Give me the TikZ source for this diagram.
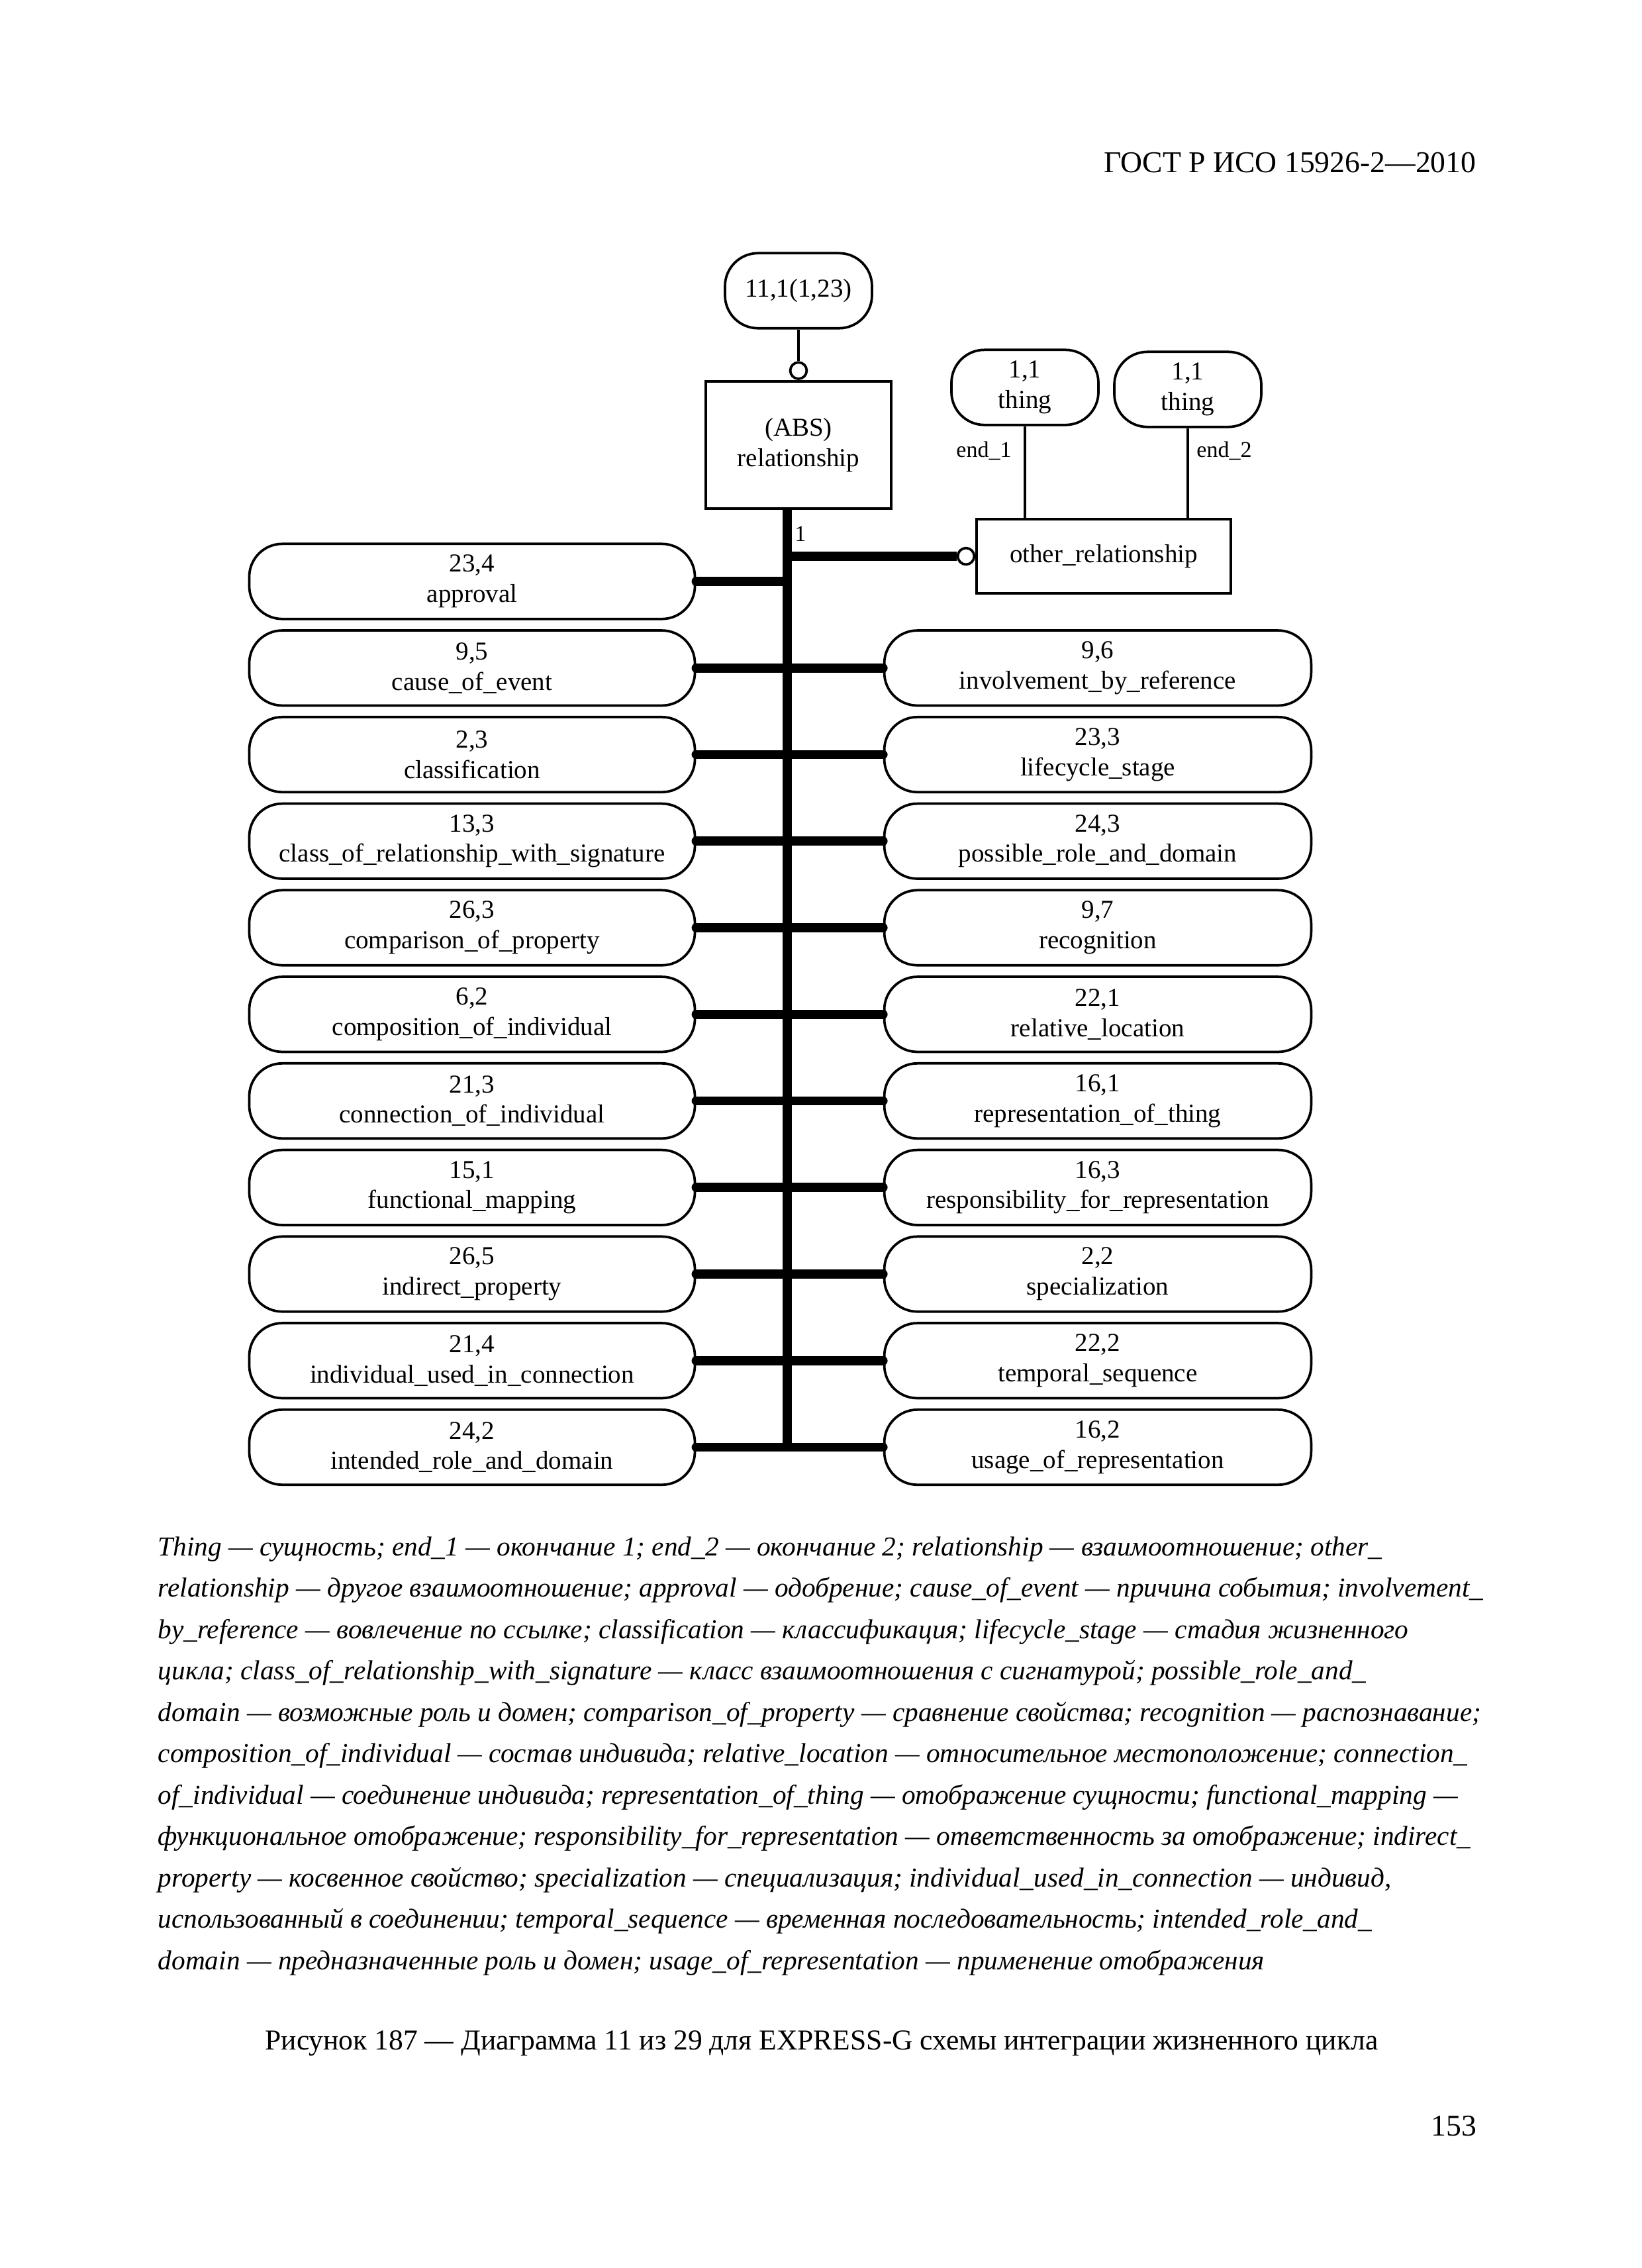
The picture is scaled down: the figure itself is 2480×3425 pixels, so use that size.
\documentclass[tikz,border=0pt]{standalone}
\usepackage{fontspec}
\setmainfont{Liberation Serif}
\usepackage{xcolor}
\usepackage{tikz}
\usetikzlibrary{positioning, arrows.meta}

\begin{document}
\begin{tikzpicture}[x=0.0084677cm, y=-0.0084677cm,
  ent/.style={draw, line width=0.9pt, inner sep=0pt, align=center, font=\fontsize{9.4}{11}\selectfont},
  refbox/.style={ent, rounded corners=12pt, minimum height=0.96cm},
  rowleft/.style={refbox, minimum width=5.70cm},
  rowright/.style={refbox, minimum width=5.46cm},
  smallref/.style={refbox, minimum width=1.88cm},
  bus/.style={line width=3.3pt},
  link/.style={line width=0.9pt},
  ring/.style={circle, draw, fill=white, line width=0.9pt, inner sep=0pt, minimum size=2.1mm},
  lbl/.style={inner sep=0pt, font=\fontsize{8.2}{10}\selectfont}]
\useasboundingbox (0,0) rectangle (2480,3425);

\node[anchor=base east, font=\fontsize{11}{13}\selectfont] (head) at (2244,260) {ГОСТ Р ИСО 15926-2—2010};

% schema part
\node[smallref] (sup) at (1206,439) {11,1(1,23)};
\node[ent, minimum width=2.37cm, minimum height=1.63cm] (rel) at (1206,672) {(ABS)\\relationship};
\node[ring, anchor=south] (r1) at (rel.north) {};
\draw[link] (sup) -- (r1);

\node[smallref] (th1) at (1548,585) {1,1\\thing};
\node[smallref] (th2) at (1794,588) {1,1\\thing};
\node[ent, minimum width=3.25cm, minimum height=0.95cm] (other) at (1667,840) {other\_relationship};
\node[ring, anchor=east] (r2) at (other.west) {};
\draw[link] (th1.south) -- (th1.south |- other.north);
\draw[link] (th2.south) -- (th2.south |- other.north);
\node[lbl] (e1) at (1486,681) {end\_1};
\node[lbl] (e2) at (1849,681) {end\_2};

% trunk
\coordinate (bustop) at (1189,770);
\coordinate (busend) at (1189,2192);
\draw[bus] (bustop) -- (busend);
\draw[bus] (bustop |- r2.west) -- (r2.west);
\node[lbl] (one) at (1209,806) {1};

\foreach \i/\a/\b/\t in {1/23/4/approval, 2/9/5/cause\_of\_event, 3/2/3/classification,
    4/13/3/class\_of\_relationship\_with\_signature, 5/26/3/comparison\_of\_property,
    6/6/2/composition\_of\_individual, 7/21/3/connection\_of\_individual,
    8/15/1/functional\_mapping, 9/26/5/indirect\_property,
    10/21/4/individual\_used\_in\_connection, 11/24/2/intended\_role\_and\_domain}{
  \node[rowleft] (L\i) at (713,{878+130.75*(\i-1)}) {\a,\b\\\t};
  \draw[bus, line cap=round] (L\i.east) -- (L\i.east -| bustop);
}
\foreach \i/\a/\b/\t in {2/9/6/involvement\_by\_reference, 3/23/3/lifecycle\_stage,
    4/24/3/possible\_role\_and\_domain, 5/9/7/recognition, 6/22/1/relative\_location,
    7/16/1/representation\_of\_thing, 8/16/3/responsibility\_for\_representation,
    9/2/2/specialization, 10/22/2/temporal\_sequence, 11/16/2/usage\_of\_representation}{
  \node[rowright] (R\i) at (1658,{878+130.75*(\i-1)}) {\a,\b\\\t};
  \draw[bus, line cap=round] (R\i.west -| bustop) -- (R\i.west);
}

% legend and caption
\node[anchor=north west, align=left, inner sep=0pt, font=\itshape\fontsize{9.95}{15.05}\selectfont] (legend) at (238,2320) {%
Thing — сущность; end\_1 — окончание 1; end\_2 — окончание 2; relationship — взаимоотношение; other\_\\
relationship — другое взаимоотношение; approval — одобрение; cause\_of\_event — причина события; involvement\_\\
by\_reference — вовлечение по ссылке; classification — классификация; lifecycle\_stage — стадия жизненного\\
цикла; class\_of\_relationship\_with\_signature — класс взаимоотношения с сигнатурой; possible\_role\_and\_\\
domain — возможные роль и домен; comparison\_of\_property — сравнение свойства; recognition — распознавание;\\
composition\_of\_individual — состав индивида; relative\_location — относительное местоположение; connection\_\\
of\_individual — соединение индивида; representation\_of\_thing — отображение сущности; functional\_mapping —\\
функциональное отображение; responsibility\_for\_representation — ответственность за отображение; indirect\_\\
property — косвенное свойство; specialization — специализация; individual\_used\_in\_connection — индивид,\\
использованный в соединении; temporal\_sequence — временная последовательность; intended\_role\_and\_\\
domain — предназначенные роль и домен; usage\_of\_representation — применение отображения};
\node[anchor=base, font=\fontsize{10.5}{13}\selectfont] (cap) at (1241,3095) {Рисунок 187 — Диаграмма 11 из 29 для EXPRESS-G схемы интеграции жизненного цикла};
\node[anchor=base east, font=\fontsize{11}{13}\selectfont] (page) at (2245,3225) {153};
\end{tikzpicture}
\end{document}
